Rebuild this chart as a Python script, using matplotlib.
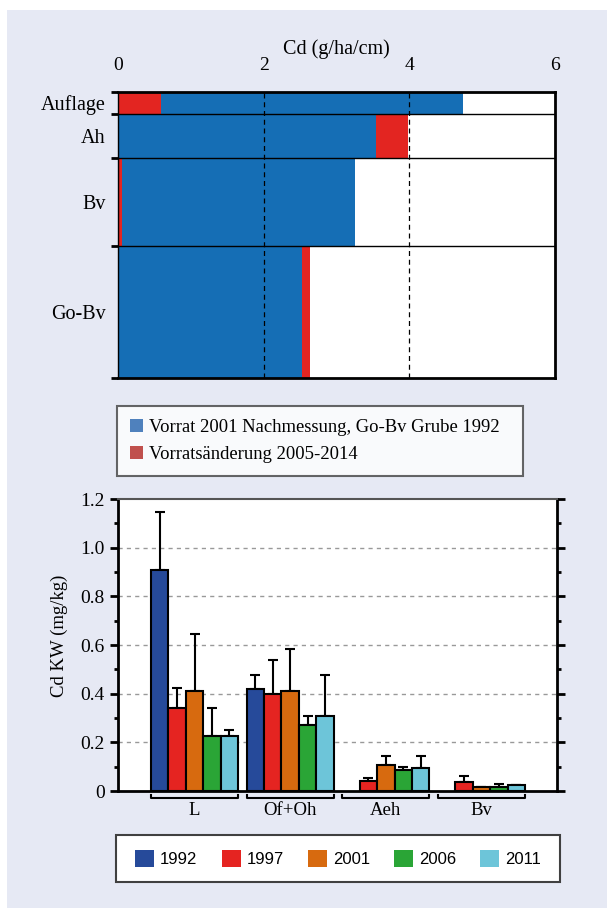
import numpy as np
import matplotlib
matplotlib.use('Agg')
import matplotlib.pyplot as plt
from matplotlib.patches import Patch, Rectangle
import matplotlib.transforms as mtransforms

# upper chart: Cd stocks per horizon
horizons = ['Auflage', 'Ah', 'Bv', 'Go-Bv']
thickness = [1, 2, 4, 6]
vorrat = [4.14, 3.54, 3.20, 2.52]
aenderung = [0.59, 0.44, 0.05, 0.11]
red_first = [True, False, True, False]

# lower chart: Cd concentrations
groups = ['L', 'Of+Oh', 'Aeh', 'Bv']
years = ['1992', '1997', '2001', '2006', '2011']
cd_1992 = [0.908, 0.419, np.nan, np.nan]
cd_1997 = [0.341, 0.399, 0.041, 0.037]
cd_2001 = [0.411, 0.411, 0.108, 0.016]
cd_2006 = [0.226, 0.271, 0.086, 0.016]
cd_2011 = [0.226, 0.308, 0.096, 0.025]
sd_1992 = [0.240, 0.059, 0, 0]
sd_1997 = [0.084, 0.139, 0.014, 0.025]
sd_2001 = [0.234, 0.174, 0.036, 0.0]
sd_2006 = [0.115, 0.039, 0.013, 0.014]
sd_2011 = [0.026, 0.170, 0.048, 0.0]

plt.rcParams['font.family'] = 'Liberation Serif'

fig = plt.figure(figsize=(6.07, 9.08), dpi=100)
fig.patches.append(Rectangle((7/607, 0), 1, 1 - 10/908, transform=fig.transFigure,
                             facecolor='#e6e9f4', edgecolor='none', zorder=-10))

# ---- top chart
ax1 = fig.add_axes([118/607, 1-378/908, 437/607, 286/908])
bounds = np.concatenate([[0], np.cumsum(thickness)])
centers = (bounds[:-1] + bounds[1:]) / 2
blue, red = '#156eb5', '#e32521'
for i in range(len(horizons)):
    if red_first[i]:
        ax1.barh(centers[i], aenderung[i], height=thickness[i], color=red, zorder=2)
        ax1.barh(centers[i], vorrat[i], left=aenderung[i], height=thickness[i], color=blue, zorder=2)
    else:
        ax1.barh(centers[i], vorrat[i], height=thickness[i], color=blue, zorder=2)
        ax1.barh(centers[i], aenderung[i], left=vorrat[i], height=thickness[i], color=red, zorder=2)
for b in bounds[1:-1]:
    ax1.axhline(b, color='black', lw=1, zorder=3)
for x in [2, 4]:
    ax1.axvline(x, color='black', lw=0.9, ls=(0, (4, 3)), zorder=3)
ax1.set_xlim(0, 6)
ax1.set_ylim(bounds[-1], 0)
ax1.xaxis.tick_top()
ax1.xaxis.set_label_position('top')
ax1.set_xticks([0, 2, 4, 6])
ax1.tick_params(axis='x', length=0, labelsize=14, pad=13)
ax1.set_xlabel('Cd (g/ha/cm)', fontsize=14.5, labelpad=2)
ax1.set_yticks(bounds)
ax1.set_yticklabels([])
ax1.set_yticks(centers, minor=True)
ax1.set_yticklabels(horizons, minor=True, fontsize=14.5)
ax1.tick_params(axis='y', which='major', length=5, width=2, direction='out')
ax1.tick_params(axis='y', which='minor', length=0, pad=9)
for s in ax1.spines.values():
    s.set_linewidth(2)
ax1.spines['left'].set_linewidth(1)

handles1 = [Patch(facecolor='#4f81bd', label='Vorrat 2001 Nachmessung, Go-Bv Grube 1992'),
            Patch(facecolor='#c0504d', label='Vorratsänderung 2005-2014')]
leg1 = fig.legend(handles=handles1, loc='lower left',
                  bbox_to_anchor=(117/607, 1-476/908, 406/607, 71/908), mode='expand',
                  fontsize=13.4, frameon=True, fancybox=False, handlelength=0.7,
                  handleheight=0.7, handletextpad=0.3, borderaxespad=0, labelspacing=0.55,
                  borderpad=0.7)
leg1.get_frame().set_edgecolor('#404040')
leg1.get_frame().set_linewidth(1.5)

# ---- bottom chart
ax2 = fig.add_axes([118/607, 1-791/908, 439/607, 292/908])
colors = ['#264a9a', '#e52421', '#d76a0f', '#2aa536', '#6dc5d9']
values = [cd_1992, cd_1997, cd_2001, cd_2006, cd_2011]
errs = [sd_1992, sd_1997, sd_2001, sd_2006, sd_2011]
x = np.arange(len(groups))
w = 0.182
for k in range(len(years)):
    pos = x + (k - 2) * w
    v = np.array(values[k])
    e = np.array(errs[k])
    ax2.bar(pos, v, width=w, color=colors[k], edgecolor='black', lw=1.5, zorder=3,
            label=years[k])
    ax2.errorbar(pos, v, yerr=[np.zeros_like(e), e], fmt='none', ecolor='black',
                 elinewidth=1.5, capsize=3.5, capthick=1.5, zorder=2)
ax2.set_xlim(-0.8, 3.79)
ax2.set_ylim(0, 1.2)
ax2.set_yticks([0, 0.2, 0.4, 0.6, 0.8, 1.0, 1.2])
ax2.set_yticklabels(['0', '0.2', '0.4', '0.6', '0.8', '1.0', '1.2'])
ax2.set_yticks(np.arange(0.1, 1.2, 0.2), minor=True)
for g in [0.2, 0.4, 0.6, 0.8, 1.0]:
    ax2.axhline(g, color='#999999', lw=1, ls=(0, (3, 3)), zorder=1)
ax2.tick_params(axis='y', which='major', length=6, width=2, labelsize=14, right=True)
ax2.tick_params(axis='y', which='minor', length=3, width=2, right=True)
ax2.set_ylabel('Cd KW (mg/kg)', fontsize=13.5, labelpad=6)
ax2.yaxis.set_label_coords(-0.115, 0.53)
ax2.set_xticks(x)
ax2.set_xticklabels(groups, fontsize=13.5)
ax2.tick_params(axis='x', length=0, pad=8)
for s in ['left', 'right', 'bottom']:
    ax2.spines[s].set_linewidth(2)
ax2.spines['top'].set_color('#555555')
ax2.spines['top'].set_linewidth(1.5)

trans = mtransforms.blended_transform_factory(ax2.transData, ax2.transAxes)
half = 2.5 * w
for xi in x:
    ax2.plot([xi - half, xi - half, xi + half, xi + half], [-0.012, -0.024, -0.024, -0.012],
             color='black', lw=1.5, transform=trans, clip_on=False)

# year legend with its own frame
fig.patches.append(Rectangle((116/607, 1-882/908), 444/607, 47/908, transform=fig.transFigure,
                             facecolor='white', edgecolor='#404040', lw=1.5, zorder=5))
leg2 = fig.legend(loc='center', bbox_to_anchor=(338/607, 1-858.5/908), ncol=5,
                  frameon=False, prop={'family': 'Liberation Sans', 'size': 12},
                  handlelength=1.14, handleheight=1.14, handletextpad=0.36,
                  columnspacing=1.44, borderaxespad=0, borderpad=0)
leg2.set_zorder(6)
for h in leg2.legend_handles:
    h.set_edgecolor('none')

fig.savefig('out.png', dpi=100)
